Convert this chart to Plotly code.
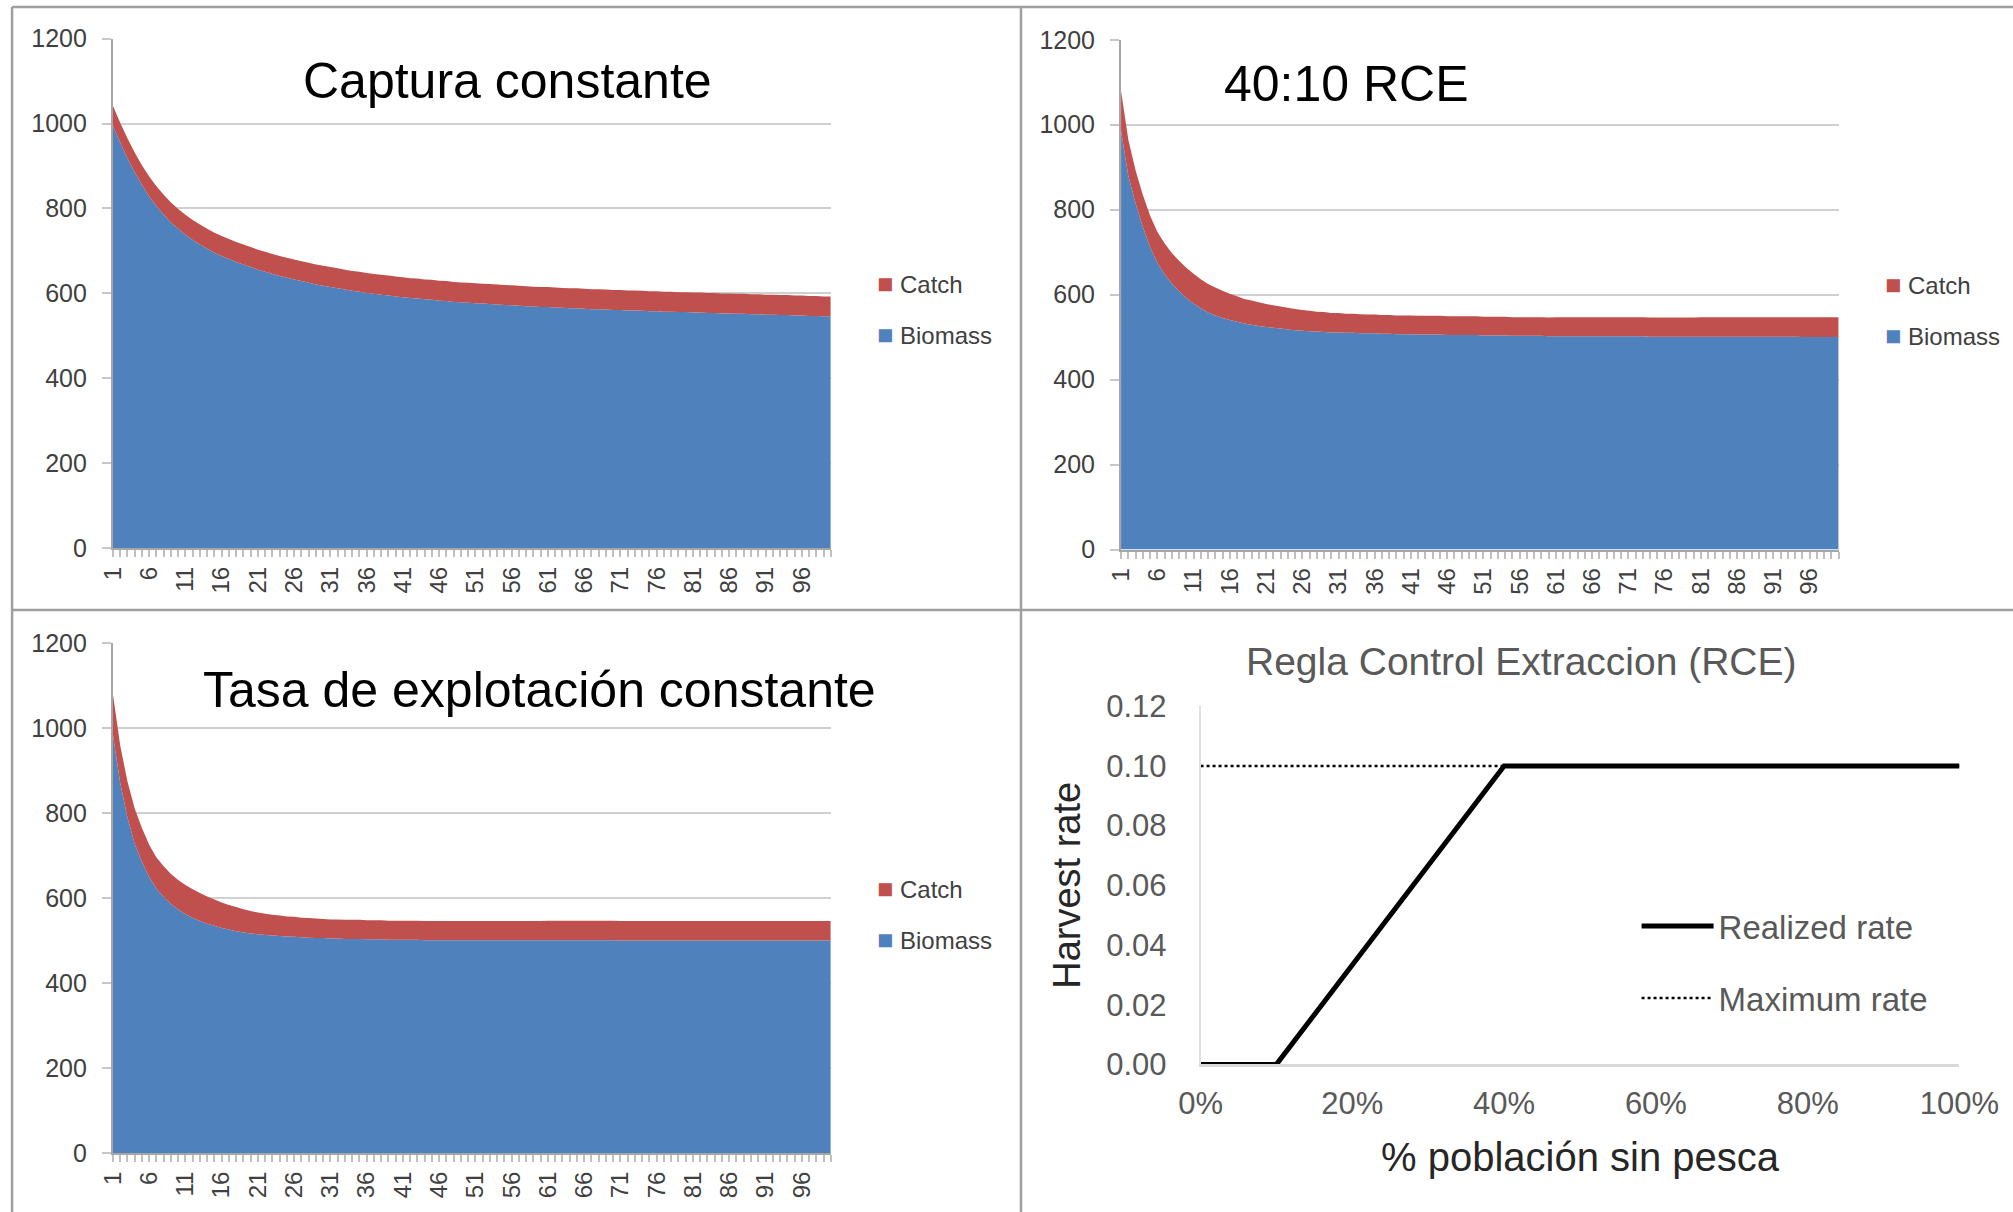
import plotly.graph_objects as go

# --- datos ---
anios = list(range(1, 101))

# Captura constante
biomasa_cc = [995, 955, 918, 885, 855, 828, 805, 785, 767, 752,
              738, 726, 715, 705, 696, 688, 681, 674, 668, 662,
              656, 651, 646, 641, 637, 633, 629, 625, 621, 618,
              615, 612, 609, 606, 604, 601, 599, 597, 595, 593,
              591, 589, 588, 586, 585, 583, 582, 580, 579, 578,
              577, 576, 575, 574, 573, 572, 571, 570, 569, 568,
              568, 567, 566, 565, 565, 564, 563, 563, 562, 561,
              561, 560, 560, 559, 558, 558, 557, 557, 556, 556,
              555, 555, 554, 554, 553, 553, 552, 552, 551, 551,
              550, 550, 549, 549, 548, 548, 547, 547, 546, 546]
captura_cc = [47, 47, 47, 47, 47, 47, 47, 47, 47, 47,
              47, 47, 47, 47, 47, 47, 47, 47, 47, 47,
              47, 47, 47, 47, 47, 47, 47, 47, 47, 47,
              47, 47, 47, 47, 47, 47, 47, 47, 47, 47,
              47, 47, 47, 47, 47, 47, 47, 47, 47, 47,
              47, 47, 47, 47, 47, 47, 47, 47, 47, 47,
              47, 47, 47, 47, 47, 47, 47, 47, 47, 47,
              47, 47, 47, 47, 47, 47, 47, 47, 47, 47,
              47, 47, 47, 47, 47, 47, 47, 47, 47, 47,
              47, 47, 47, 47, 47, 47, 47, 47, 47, 47]

# 40:10 RCE
biomasa_rce = [985, 880, 815, 760, 712, 675, 648, 626, 608, 592,
               579, 568, 558, 551, 545, 540, 536, 532, 529, 526,
               524, 522, 520, 518, 516, 515, 514, 513, 512, 511,
               511, 510, 510, 509, 509, 509, 508, 508, 507, 507,
               507, 506, 506, 506, 506, 505, 505, 505, 505, 505,
               504, 504, 504, 504, 503, 503, 503, 503, 503, 502,
               502, 502, 502, 502, 502, 502, 502, 502, 502, 502,
               502, 502, 502, 501, 501, 501, 501, 501, 501, 501,
               501, 501, 501, 501, 501, 501, 501, 501, 501, 501,
               501, 501, 501, 501, 500, 500, 500, 500, 500, 500]
captura_rce = [95, 85, 78, 75, 74, 73, 73, 72, 72, 71,
               70, 68, 67, 66, 64, 62, 60, 58, 57, 56,
               54, 53, 52, 51, 50, 49, 48, 47, 47, 46,
               46, 45, 45, 45, 44, 44, 44, 44, 44, 44,
               44, 44, 44, 44, 44, 44, 44, 44, 44, 44,
               44, 44, 44, 44, 44, 44, 44, 44, 44, 44,
               45, 45, 45, 45, 45, 45, 45, 45, 45, 45,
               45, 45, 45, 45, 45, 45, 45, 45, 45, 45,
               46, 46, 46, 46, 46, 46, 46, 46, 46, 46,
               46, 46, 46, 46, 47, 47, 47, 47, 47, 47]

# Tasa de explotacion constante
biomasa_tec = [985, 872, 790, 728, 686, 650, 622, 603, 586, 573,
               562, 553, 546, 540, 535, 530, 526, 522, 519, 517,
               515, 513, 512, 511, 510, 509, 508, 507, 506, 506,
               505, 505, 504, 504, 504, 503, 503, 503, 502, 502,
               502, 502, 502, 501, 501, 501, 501, 501, 501, 501,
               501, 501, 501, 501, 501, 501, 501, 501, 501, 501,
               501, 501, 501, 501, 501, 501, 501, 501, 501, 501,
               500, 500, 500, 500, 500, 500, 500, 500, 500, 500,
               500, 500, 500, 500, 500, 500, 500, 500, 500, 500,
               500, 500, 500, 500, 500, 500, 500, 500, 500, 500]
captura_tec = [95, 88, 85, 83, 79, 76, 74, 72, 71, 70,
               69, 68, 66, 64, 62, 60, 58, 57, 55, 53,
               51, 50, 49, 48, 47, 47, 46, 46, 46, 45,
               45, 45, 45, 45, 45, 45, 45, 45, 45, 45,
               45, 45, 45, 45, 45, 45, 45, 45, 45, 45,
               45, 45, 45, 45, 45, 45, 45, 45, 45, 45,
               46, 46, 46, 46, 46, 46, 46, 46, 46, 46,
               46, 46, 46, 46, 46, 46, 46, 46, 46, 46,
               46, 46, 46, 46, 46, 46, 46, 46, 46, 46,
               46, 46, 46, 46, 46, 46, 46, 46, 46, 46]

# Regla de control
poblacion = [0, 0.1, 0.4, 1.0]
tasa_realizada = [0, 0, 0.1, 0.1]
poblacion_max = [0, 1.0]
tasa_maxima = [0.1, 0.1]

AZUL = '#4F81BD'
ROJO = '#C0504D'
FUENTE = 'Liberation Sans, Arial, sans-serif'

fig = go.Figure()

paneles = [
    ('x', 'y', biomasa_cc, captura_cc),
    ('x2', 'y2', biomasa_rce, captura_rce),
    ('x3', 'y3', biomasa_tec, captura_tec),
]
for i, (xa, ya, bio, cap) in enumerate(paneles):
    grupo = 'g%d' % i
    fig.add_trace(go.Scatter(x=anios, y=bio, name='Biomass', stackgroup=grupo,
                             mode='none', fillcolor=AZUL, xaxis=xa, yaxis=ya,
                             showlegend=False))
    fig.add_trace(go.Scatter(x=anios, y=cap, name='Catch', stackgroup=grupo,
                             mode='none', fillcolor=ROJO, xaxis=xa, yaxis=ya,
                             showlegend=False))

fig.add_trace(go.Scatter(x=poblacion, y=tasa_realizada, name='Realized rate',
                         mode='lines', line=dict(color='black', width=5),
                         xaxis='x4', yaxis='y4', legendgroup='a'))
fig.add_trace(go.Scatter(x=poblacion_max, y=tasa_maxima, name='Maximum rate',
                         mode='lines', line=dict(color='black', width=2.5, dash='dot'),
                         xaxis='x4', yaxis='y4', legendgroup='b'))


def eje_x_area(dom, ancla):
    return dict(domain=dom, anchor=ancla, range=[1, 100], tick0=1, dtick=5,
                tickangle=-90, showgrid=False, zeroline=False, automargin=False,
                showline=True, linecolor='#A6A6A6', linewidth=2,
                ticks='outside', ticklen=7, tickcolor='#BFBFBF', tickwidth=1.5,
                minor=dict(dtick=1, ticks='outside', ticklen=7,
                           tickcolor='#BFBFBF', tickwidth=1.5, showgrid=False),
                tickfont=dict(size=24, color='#404040', family=FUENTE))


def eje_y_area(dom, ancla):
    return dict(domain=dom, anchor=ancla, range=[0, 1200], dtick=200,
                showgrid=True, gridcolor='#D0D0D0', gridwidth=2, zeroline=False,
                automargin=False,
                showline=True, linecolor='#A6A6A6', linewidth=2,
                ticks='outside', ticklen=9, tickcolor='#C8C8C8', tickwidth=2,
                ticklabelstandoff=10,
                tickfont=dict(size=25, color='#404040', family=FUENTE))


titulos = [
    ('Captura constante', 0.252, 0.933),
    ('40:10 RCE', 0.669, 0.931),
    ('Tasa de explotación constante', 0.268, 0.431),
]
anotaciones = [dict(text=t, x=x, y=y, xref='paper', yref='paper', showarrow=False,
                    xanchor='center', yanchor='middle',
                    font=dict(size=50, color='black', family=FUENTE))
               for t, x, y in titulos]

leyendas = [(0.4347, 0.7657, 0.7236), (0.9356, 0.7649, 0.7228), (0.4347, 0.2669, 0.2244)]
for x, y1, y2 in leyendas:
    for texto, color, y in (('Catch', ROJO, y1), ('Biomass', AZUL, y2)):
        anotaciones.append(dict(
            text="<span style='color:%s;font-size:27px'>■</span> %s" % (color, texto),
            x=x, y=y, xref='paper', yref='paper', xanchor='left', yanchor='middle',
            showarrow=False, font=dict(size=24, color='#404040', family=FUENTE)))

anotaciones.append(dict(text='Regla Control Extraccion (RCE)', x=0.756, y=0.4546,
                        xref='paper', yref='paper', showarrow=False,
                        xanchor='center', yanchor='middle',
                        font=dict(size=39, color='#595959', family=FUENTE)))

lineas = [
    dict(x0=0.006, x1=1, y0=0.9942, y1=0.9942),
    dict(x0=0.006, x1=0.006, y0=0, y1=0.9942),
    dict(x0=0.5072, x1=0.5072, y0=0, y1=0.9942),
    dict(x0=0.006, x1=1, y0=0.4967, y1=0.4967),
]
formas = [dict(type='line', xref='paper', yref='paper', line=dict(color='#A0A0A0', width=2.5), **l)
          for l in lineas]

fig.update_layout(
    template='none',
    width=2013, height=1212,
    margin=dict(l=0, r=0, t=0, b=0, pad=0),
    paper_bgcolor='white', plot_bgcolor='white',
    font=dict(family=FUENTE),
    xaxis=eje_x_area([0.0561, 0.4127], 'y'),
    yaxis=eje_y_area([0.5476, 0.9682], 'x'),
    xaxis2=eje_x_area([0.5569, 0.9134], 'y2'),
    yaxis2=eje_y_area([0.5466, 0.9672], 'x2'),
    xaxis3=eje_x_area([0.0561, 0.4127], 'y3'),
    yaxis3=eje_y_area([0.0487, 0.4692], 'x3'),
    xaxis4=dict(domain=[0.5964, 0.9734], anchor='y4', range=[0, 1], dtick=0.2,
                tickformat='.0%', showgrid=False, zeroline=False, automargin=False,
                showline=True, linecolor='#D9D9D9', linewidth=3, ticks='',
                ticklabelstandoff=9,
                tickfont=dict(size=31, color='#595959', family=FUENTE),
                title=dict(text='% población sin pesca', standoff=24,
                           font=dict(size=40, color='#262626', family=FUENTE))),
    yaxis4=dict(domain=[0.1218, 0.4173], anchor='x4', range=[0, 0.12], dtick=0.02,
                tickformat='.2f', showgrid=False, zeroline=False, automargin=False,
                showline=True, linecolor='#E0E0E0', linewidth=1.5, ticks='',
                ticklabelstandoff=26,
                tickfont=dict(size=31, color='#595959', family=FUENTE),
                title=dict(text='Harvest rate', standoff=14,
                           font=dict(size=38, color='#262626', family=FUENTE))),
    showlegend=True,
    legend=dict(x=0.813, y=0.259, xanchor='left', yanchor='top',
                bgcolor='rgba(0,0,0,0)', itemwidth=72, tracegroupgap=26,
                font=dict(size=33, color='#595959', family=FUENTE)),
    annotations=anotaciones,
    shapes=formas,
)

fig.write_html("out.html", config={'displayModeBar': False},
               post_script="document.body.style.margin='0';")
